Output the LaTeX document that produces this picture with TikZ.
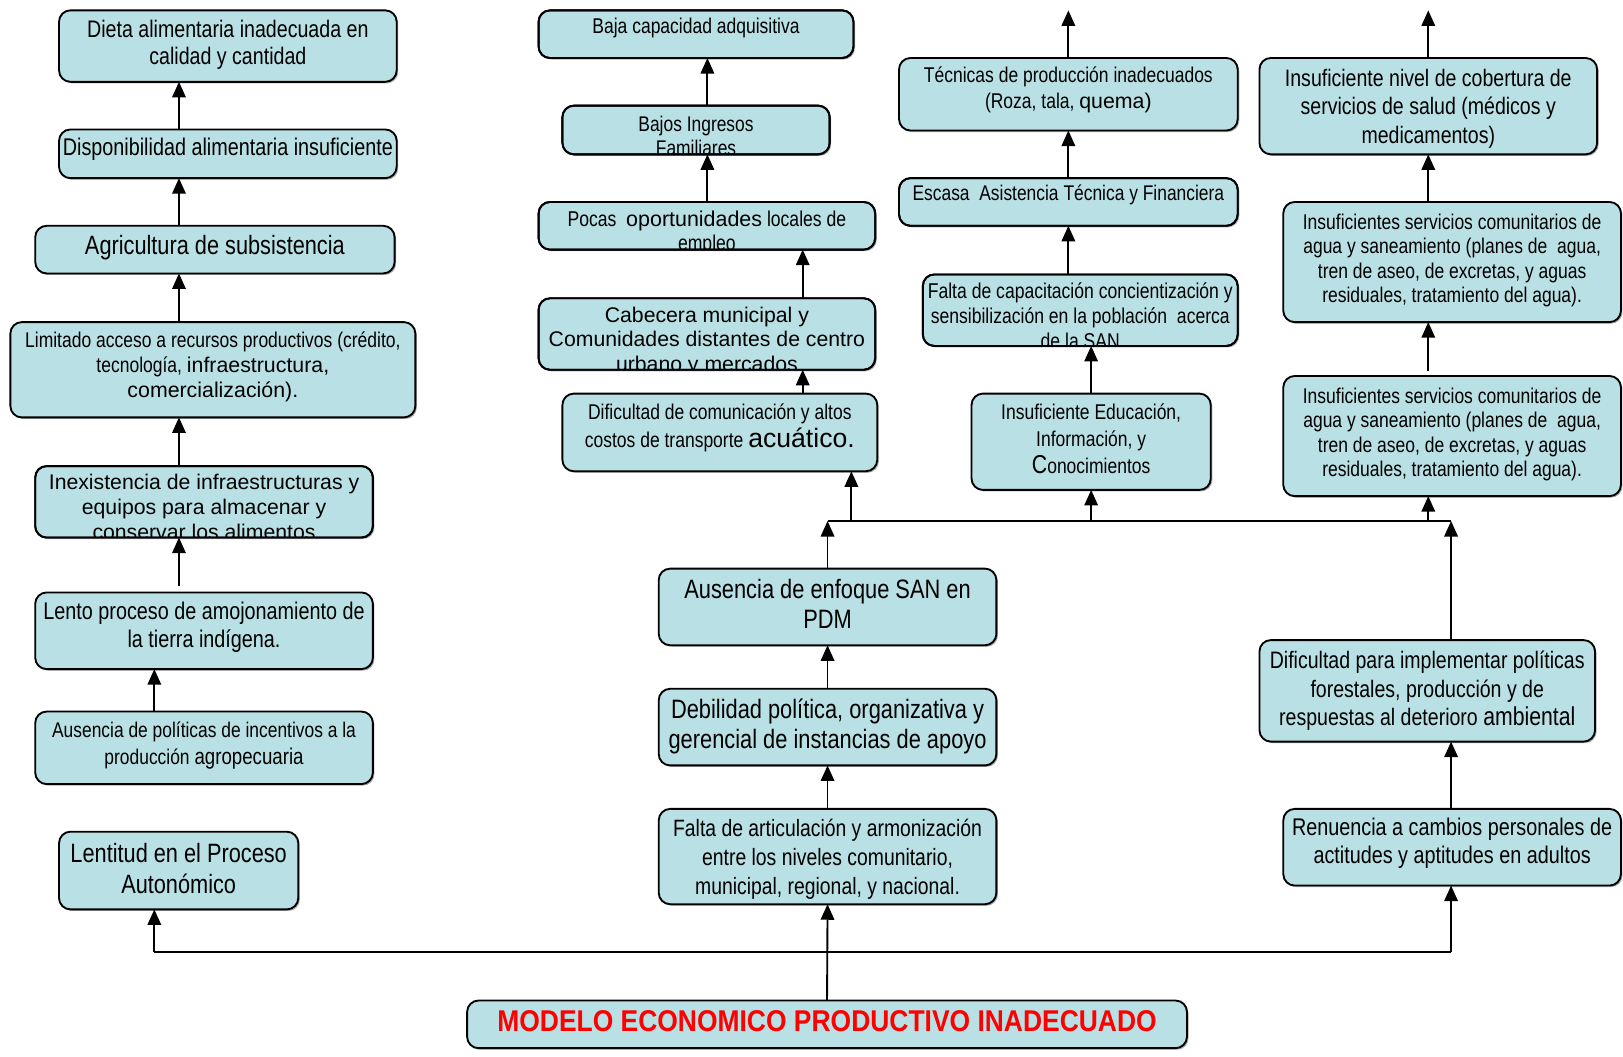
\documentclass[tikz,border=0pt]{standalone}
\usepackage{fontspec}
\setmainfont{Liberation Sans}
\newfontfamily\NarrowF[FakeStretch=0.82]{Liberation Sans}
\newfontfamily\RegF{Liberation Sans}
\newfontfamily\TitleF[FakeStretch=0.88]{Liberation Sans}
\usetikzlibrary{arrows.meta,shadows}
\definecolor{boxfill}{RGB}{185,224,228}
\definecolor{titlered}{RGB}{255,0,0}
\newcommand\FS[2]{\fontsize{#1}{#2}\selectfont}
\tikzset{
  box/.style={draw=black, line width=1.8pt, fill=boxfill, rounded corners=11pt,
    align=center, inner sep=1pt, outer sep=0pt,
    drop shadow={shadow xshift=1.5pt, shadow yshift=-1.5pt, fill=black!55, opacity=0.6}},
  txt/.style={align=center, inner sep=0pt, outer sep=0pt, font=\NarrowF\FS{20.5}{24}},
  arr/.style={line width=1.8pt, -{Triangle[width=13pt,length=15pt]}},
  ln/.style={line width=1.8pt}
}
% box with centred text: name, x1, y1, x2, y2, vertical text offset, text
\newcommand\BoxN[8][]{%
  \node[box,minimum width={(#5-#3)*1pt},minimum height={(#6-#4)*1pt}] (#2) at ({(#3+#5)/2},{(#4+#6)/2}) {};
  \node[txt,#1] (#2t) at ({(#3+#5)/2},{(#4+#6)/2+#7}) {#8};}
% box with top-aligned, clipped text: name, x1, y1, x2, y2, first baseline offset, text
\newcommand\TBoxN[8][]{%
  \node[box,minimum width={(#5-#3)*1pt},minimum height={(#6-#4)*1pt}] (#2) at ({(#3+#5)/2},{(#4+#6)/2}) {};
  \begin{scope}
    \clip[rounded corners=11pt] (#2.south west) rectangle (#2.north east);
    \node[txt,#1,anchor=north] (#2t) at ({(#3+#5)/2},{#4+#7-20}) {\rule{0pt}{20pt}#8};
  \end{scope}
  \draw[line width=1.8pt,rounded corners=11pt] (#2.south west) rectangle (#2.north east);}
\begin{document}
\begin{tikzpicture}[x=1pt,y=-1pt]
\fill[white] (0,0) rectangle (1567,1020);
\useasboundingbox (0,0) rectangle (1567,1020);

% ---------- left column ----------
\BoxN[font=\NarrowF\FS{23.1}{26}]{B1}{57}{10}{383}{79}{-1}{Dieta alimentaria inadecuada en\\calidad y cantidad}
\BoxN[font=\NarrowF\FS{23.3}{26}]{B2}{57}{125}{383}{172}{-4}{Disponibilidad alimentaria insuficiente}
\BoxN[font=\NarrowF\FS{25.6}{29}]{B3}{34}{218}{381}{264}{-2}{Agricultura de subsistencia}
\BoxN[font=\NarrowF\FS{20.6}{24}]{B4}{10}{311}{401}{403}{-3}{Limitado acceso a recursos productivos (crédito,\\tecnología, {\RegF infraestructura,}\\{\RegF comercialización).}}
\TBoxN[font=\RegF\FS{20.5}{24}]{B5}{34}{450}{360}{519}{23}{Inexistencia de infraestructuras y\\equipos para almacenar y\\conservar los alimentos}
\BoxN[font=\NarrowF\FS{23.3}{27}]{B6}{34}{572}{360}{646}{-3.5}{Lento proceso de amojonamiento de\\la tierra indígena.}
\BoxN[font=\NarrowF\FS{20.5}{26}]{B7}{34}{687}{360}{757}{-2}{Ausencia de políticas de incentivos a la\\producción {\FS{22}{26}agropecuaria}}
\BoxN[font=\NarrowF\FS{25.6}{30}]{B8}{57}{803}{288}{878}{-2}{Lentitud en el Proceso\\Autonómico}

% ---------- middle-left column ----------
\TBoxN[font=\NarrowF\FS{20.6}{24}]{M1}{520}{10}{824}{56}{22}{Baja capacidad adquisitiva}
\TBoxN[font=\NarrowF\FS{20.5}{23}]{M2}{543}{102}{801}{149}{25}{Bajos Ingresos\\Familiares}
\TBoxN[font=\NarrowF\FS{20.7}{23}]{M3}{520}{195}{845}{241}{24}{Pocas\ \ {\RegF oportunidades} locales de\\empleo}
\TBoxN[font=\RegF\FS{20.5}{24}]{M4}{520}{288}{845}{357}{23}{Cabecera municipal y\\Comunidades distantes de centro\\urbano y mercados}
\BoxN[font=\NarrowF\FS{20.6}{27}]{M5}{543}{380}{847}{455}{-4}{Dificultad de comunicación y altos\\costos de transporte {\RegF\FS{25.7}{27}acuático.}}

% ---------- center column ----------
\BoxN[font=\NarrowF\FS{25.7}{29}]{C1}{636}{549}{962}{623}{-3}{Ausencia de enfoque SAN en\\PDM}
\BoxN[font=\NarrowF\FS{25.7}{29}]{C2}{636}{665}{962}{739}{-1}{Debilidad política, organizativa y\\gerencial de instancias de apoyo}
\BoxN[font=\NarrowF\FS{22.8}{28}]{C3}{636}{781}{962}{873}{3}{Falta de articulación y armonización\\entre los niveles comunitario,\\municipal, regional, y nacional.}

% ---------- center-right column ----------
\BoxN[font=\NarrowF\FS{20.6}{25}]{R1}{868}{56}{1195}{126}{-4}{Técnicas de producción inadecuados\\(Roza, tala, {\RegF quema)}}
\TBoxN[font=\NarrowF\FS{20.5}{24}]{R2}{868}{172}{1195}{218}{22}{Escasa\ \ Asistencia Técnica y Financiera}
\TBoxN[font=\NarrowF\FS{20.7}{24}]{R3}{891}{265}{1195}{334}{23}{Falta de capacitación concientización y\\sensibilización en la población\ \ acerca\\de la SAN}
\BoxN[font=\NarrowF\FS{20.6}{26}]{R4}{938}{380}{1169}{473}{-3}{Insuficiente Educación,\\Información, y\\{\FS{25}{26}C}onocimientos}

% ---------- right column ----------
\BoxN[font=\NarrowF\FS{23}{27.5}]{F1}{1216}{56}{1542}{149}{2.5}{Insuficiente nivel de cobertura de\\servicios de salud (médicos y\\medicamentos)}
\BoxN[font=\NarrowF\FS{20.6}{23.7}]{F2}{1239}{195}{1565}{311}{-1.5}{Insuficientes servicios comunitarios de\\agua y saneamiento (planes de\ \ agua,\\tren de aseo, de excretas, y aguas\\residuales, tratamiento del agua).}
\BoxN[font=\NarrowF\FS{20.6}{23.7}]{F3}{1239}{363}{1565}{479}{-1.5}{Insuficientes servicios comunitarios de\\agua y saneamiento (planes de\ \ agua,\\tren de aseo, de excretas, y aguas\\residuales, tratamiento del agua).}
\BoxN[font=\NarrowF\FS{23}{27.5}]{D1}{1216}{618}{1540}{716}{0}{Dificultad para implementar políticas\\forestales, producción y de\\respuestas al deterioro {\FS{25}{27.5}ambiental}}
\BoxN[font=\NarrowF\FS{23.3}{27}]{D2}{1239}{781}{1565}{855}{-3.5}{Renuencia a cambios personales de\\actitudes y aptitudes en adultos}

% ---------- bottom ----------
\BoxN[font=\TitleF\bfseries\FS{29}{30},text=titlered]{MB}{451}{966}{1146}{1012}{-3}{MODELO ECONOMICO PRODUCTIVO INADECUADO}

% ---------- connector columns ----------
\coordinate (xl) at (172.8,0);
\coordinate (xl2) at (149,0);
\coordinate (xm1) at (683,0);
\coordinate (xm2) at (775,0);
\coordinate (xm3) at (822,0);
\coordinate (hL) at (799,503);
\coordinate (hR) at (1401,503);
\coordinate (bL) at (149,919);
\coordinate (bR) at (1401,919);
\coordinate (Rtop) at (1031.5,10);
\coordinate (Ftop) at (1379,10);

% left column arrows
\draw[arr] (B2.north -| xl) -- (B1.south -| xl);
\draw[arr] (B3.north -| xl) -- (B2.south -| xl);
\draw[arr] (B4.north -| xl) -- (B3.south -| xl);
\draw[arr] (B5.north -| xl) -- (B4.south -| xl);
\draw[arr] ([yshift=6pt]B6.north -| xl) -- (B5.south -| xl);
\draw[arr] (B7.north -| xl2) -- (B6.south -| xl2);

% middle-left arrows
\draw[arr] (M2.north -| xm1) -- (M1.south -| xm1);
\draw[arr] (M3.north -| xm1) -- (M2.south -| xm1);
\draw[arr] (M4.north -| xm2) -- (M3.south -| xm2);
\draw[arr] (M5.north -| xm2) -- (M4.south -| xm2);

% center arrows
\draw[arr] (C2.north) -- (C1.south);
\draw[arr] (C3.north) -- (C2.south);

% center-right arrows
\draw[arr] (R1.north) -- (Rtop);
\draw[arr] (R2.north) -- (R1.south);
\draw[arr] (R3.north -| R2.north) -- (R2.south);
\draw[arr] (R4.north) -- (R4.north |- R3.south);

% right arrows
\draw[arr] (F1.north) -- (Ftop);
\draw[arr] (F2.north -| F1.south) -- (F1.south);
\draw[arr] ([yshift=5pt]F3.north -| F1.south) -- (F2.south -| F1.south);
\draw[arr] (D2.north -| hR) -- (D1.south -| hR);

% hub line
\draw[ln] (hL) -- (hR);
\draw[arr] (C1.north) -- (hL);
\draw[arr] (D1.north -| hR) -- (hR);
\draw[arr] (hL -| xm3) -- (M5.south -| xm3);
\draw[arr] (hL -| R4.south) -- (R4.south);
\draw[arr] (hL -| F1.south) -- (F3.south -| F1.south);

% bottom distribution
\draw[ln] (bL) -- (bR);
\draw[arr] (MB.north) -- (C3.south);
\draw[arr] (bL) -- (bL |- B8.south);
\draw[arr] (bR) -- (bR |- D2.south);
\end{tikzpicture}
\end{document}
